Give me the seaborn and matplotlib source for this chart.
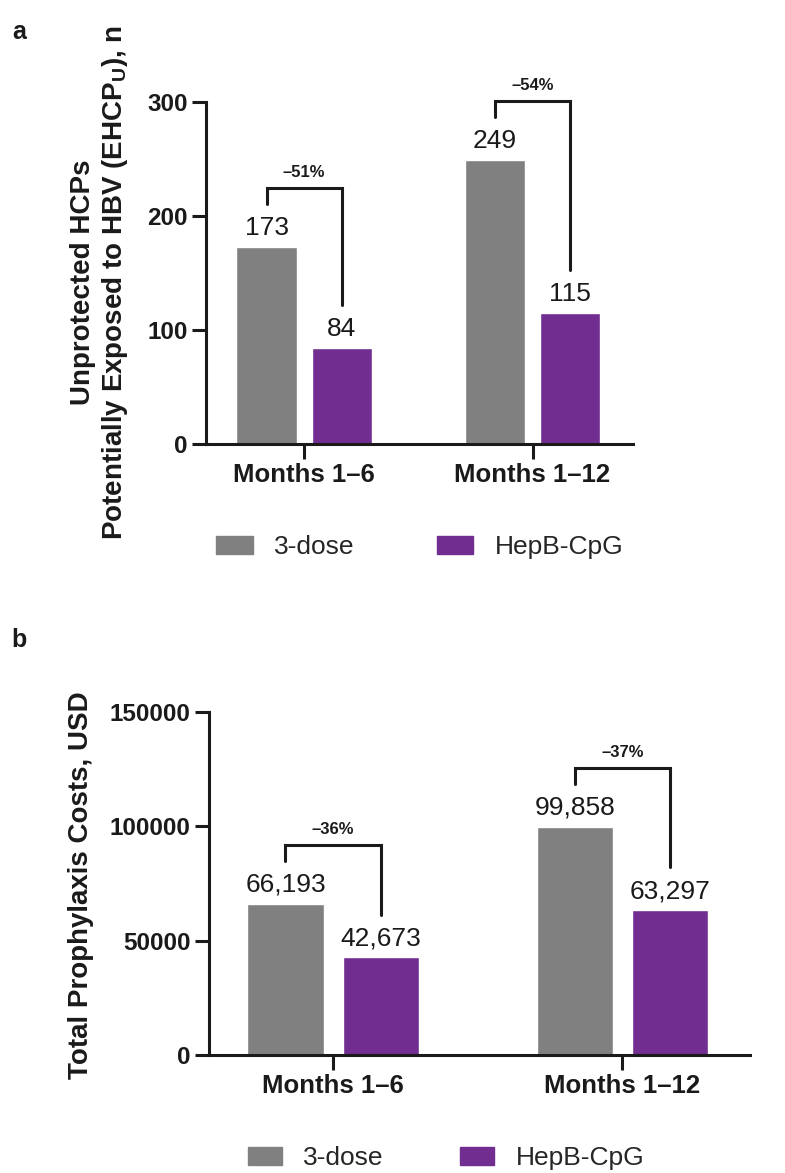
import numpy as np
import matplotlib.pyplot as plt
import pandas as pd
import seaborn as sns
from matplotlib.patches import Patch

# Data
periods = ["Months 1–6", "Months 1–12"]
regimens = ["3-dose", "HepB-CpG"]
ehcp_3dose = [173, 249]
ehcp_hepb = [84, 115]
cost_3dose = [66193, 99858]
cost_hepb = [42673, 63297]
ticks_a = [0, 100, 200, 300]
ticks_b = [0, 50000, 100000, 150000]
bar_colors = ["#808080", "#712d8f"]

sns.set_style("ticks")
plt.rcParams["font.family"] = ["Liberation Sans", "DejaVu Sans"]
plt.rcParams["mathtext.fontset"] = "custom"
plt.rcParams["mathtext.bf"] = "Liberation Sans:bold"
plt.rcParams["mathtext.rm"] = "Liberation Sans"
ink = "#1a1a1a"


def make_df(a, b):
    return pd.DataFrame({"period": periods * 2,
                         "regimen": [regimens[0]] * 2 + [regimens[1]] * 2,
                         "value": a + b})


def draw_panel(ax, a, b, yticks, fmt):
    ymax = yticks[-1]
    sns.barplot(data=make_df(a, b), x="period", y="value", hue="regimen",
                palette=bar_colors, width=0.66, gap=0.2, saturation=1,
                errorbar=None, legend=False, ax=ax)
    ax.set_xlim(-0.43, 1.44)
    ax.set_ylim(0, ymax)
    ax.set_yticks(yticks)
    ax.set_yticklabels([str(t) for t in yticks], fontsize=17.5, fontweight="bold", color=ink)
    ax.set_xticks([0, 1])
    ax.set_xticklabels(periods, fontsize=18.5, fontweight="bold", color=ink)
    ax.set_xlabel("")
    sns.despine(ax=ax)
    for s in ["left", "bottom"]:
        ax.spines[s].set_linewidth(2.2)
        ax.spines[s].set_color(ink)
    ax.tick_params(axis="both", length=10, width=2.2, color=ink, pad=3)
    ax.tick_params(axis="x", length=11)

    for cont in ax.containers:
        ax.bar_label(cont, labels=[fmt.format(v) for v in cont.datavalues],
                     padding=5, fontsize=19, color=ink)

    # brackets with percent change
    for i in range(2):
        p0 = ax.containers[0][i]
        p1 = ax.containers[1][i]
        x0 = p0.get_x() + p0.get_width() / 2
        x1 = p1.get_x() + p1.get_width() / 2
        top = a[i] + 0.172 * ymax
        ax.plot([x0, x0, x1, x1], [a[i] + 0.125 * ymax, top, top, b[i] + 0.125 * ymax],
                color=ink, lw=2.2, clip_on=False, solid_joinstyle="miter")
        pct = round((b[i] - a[i]) / a[i] * 100)
        ax.text((x0 + x1) / 2, top + 0.045 * ymax, "–%d%%" % abs(pct),
                ha="center", va="center", fontsize=12, fontweight="bold", color=ink)


fig = plt.figure(figsize=(7.85, 11.73), dpi=100)
ax_a = fig.add_axes([0.2624, 0.6215, 0.544, 0.2918])
ax_b = fig.add_axes([0.266, 0.1006, 0.689, 0.2924])

draw_panel(ax_a, ehcp_3dose, ehcp_hepb, ticks_a, "{:.0f}")
draw_panel(ax_b, cost_3dose, cost_hepb, ticks_b, "{:,.0f}")

ax_a.set_ylabel("Unprotected HCPs\nPotentially Exposed to HBV (EHCP$_{\\mathbf{U}}$), n",
                fontsize=20, fontweight="bold", color=ink, linespacing=1.2)
ax_a.yaxis.set_label_coords(-0.178, 0.473)
ax_b.set_ylabel("Total Prophylaxis Costs, USD", fontsize=20, fontweight="bold", color=ink)
ax_b.yaxis.set_label_coords(-0.212, 0.496)

handles = [Patch(color=c) for c in bar_colors]
fig.legend(handles, regimens, loc="center", bbox_to_anchor=(0.535, 1 - 547 / 1173),
           ncol=2, frameon=False, fontsize=19, handlelength=1.37, handleheight=0.68,
           handletextpad=0.83, columnspacing=3.1)
fig.legend(handles, regimens, loc="center", bbox_to_anchor=(0.568, 1 - 1158 / 1173),
           ncol=2, frameon=False, fontsize=19, handlelength=1.3, handleheight=0.68,
           handletextpad=0.8, columnspacing=2.9)

fig.text(0.015, 1 - 32 / 1173, "a", fontsize=18, fontweight="bold", va="center", color=ink)
fig.text(0.015, 1 - 640 / 1173, "b", fontsize=18, fontweight="bold", va="center", color=ink)

fig.savefig("out.png", dpi=100)
